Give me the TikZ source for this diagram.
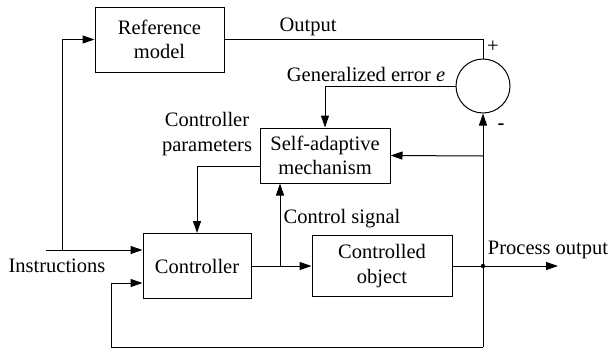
\documentclass[tikz,border=0pt]{standalone}
\usepackage{fontspec}
\setmainfont{Liberation Serif}
\newfontfamily\tnr{Liberation Serif}
\usetikzlibrary{arrows.meta,calc}
\begin{document}
\begin{tikzpicture}[x=1pt,y=-1pt,
  font=\tnr\fontsize{20.5}{24.6}\selectfont,
  blk/.style={draw,line width=1pt,align=center,inner sep=0pt},
  ln/.style={line width=1pt},
  arr/.style={line width=1pt,-{Triangle[length=12pt,width=8pt]}},
  lbl/.style={inner sep=0pt,align=center}]
\useasboundingbox (0,0) rectangle (610,351);
\node[blk,minimum width=129pt,minimum height=65pt] (ref) at (159.5,39.5) {Reference\\model};
\node[blk,minimum width=130pt,minimum height=55pt] (sam) at (325,155.5) {Self-adaptive\\mechanism};
\node[blk,minimum width=108pt,minimum height=65pt] (ctrl) at (197,266) {Controller};
\node[blk,minimum width=140pt,minimum height=61pt] (obj) at (382,266) {Controlled\\object};
\node[draw,line width=1pt,circle,minimum size=54pt,inner sep=0pt] (sum) at (483,86) {};
\coordinate (in) at (46,250);
\coordinate (j1) at (62,250);
\coordinate (cp) at (260,166);
\coordinate (br) at (280,266);
\coordinate (jo) at (483,266);
\coordinate (out) at (558,266);
\coordinate (bot) at (483,347);
\coordinate (fbl) at (111,347);
\coordinate (fbu) at (111,283);
\coordinate (fbs) at (483,156);
% connectors
\draw[arr] (in) -- (in -| ctrl.west);
\draw[arr] (j1) |- (ref.west);
\draw[ln] (ref.east) -| (sum.north);
\draw[arr] (sum.west) -| (sam.north);
\draw[arr] (cp) -| (ctrl.north);
\draw[arr] (ctrl.east) -- (obj.west);
\draw[arr] (br) -- (br |- sam.south);
\draw[arr] (obj.east) -- (out);
\draw[arr] (bot) -- (sum.south);
\draw[arr] (fbs) -- (sam.east);
\draw[ln] (bot) -- (fbl) -- (fbu);
\draw[arr] (fbu) -- (fbu -| ctrl.west);
\fill (jo) circle (2.2pt);
% labels
\node[lbl] (lout) at (308,27) {Output};
\node[lbl] (lerr) at (366,74) {Generalized error \textit{e}};
\node[lbl] (lcp) at (207,134) {Controller\\parameters};
\node[lbl] (lcs) at (342,219) {Control signal};
\node[lbl] (lpo) at (548,250) {Process output};
\node[lbl] (lin) at (57,266) {Instructions};
\node[lbl] (lplus) at (493,47) {+};
\node[lbl,font=\tnr\fontsize{20.5}{24.6}\selectfont\bfseries] (lminus) at (501,127) {-};
\end{tikzpicture}
\end{document}
